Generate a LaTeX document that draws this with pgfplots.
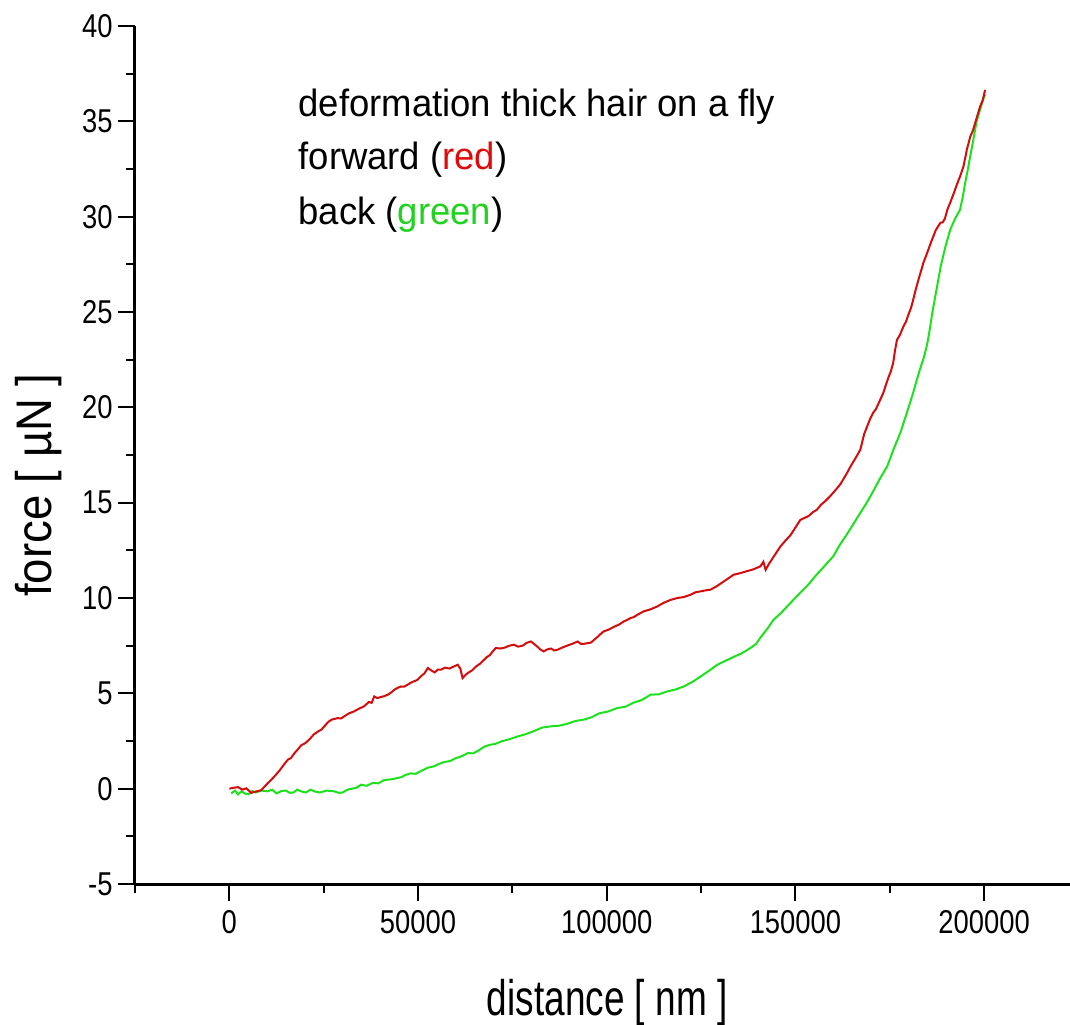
\documentclass[border=0pt]{standalone}
\usepackage{fontspec}
\setmainfont{Liberation Sans}
\usepackage{graphicx}
\usepackage{pgfplots}
\pgfplotsset{compat=1.18}
\definecolor{fwd}{RGB}{212,12,12}
\definecolor{bck}{RGB}{30,225,30}
\definecolor{txtred}{RGB}{225,10,10}
\definecolor{txtgreen}{RGB}{30,210,30}
\newcommand{\tl}[1]{\scalebox{0.83}[1]{#1}}
\begin{document}
\begin{tikzpicture}
\begin{axis}[
  at={(0pt,0pt)}, anchor=south west,
  scale only axis, width=467.5pt, height=429pt,
  xmin=-25000, xmax=222750, ymin=-5, ymax=40,
  axis x line*=bottom, axis y line*=left,
  axis line style={line width=1.5pt},
  xtick={0,50000,100000,150000,200000},
  xticklabels={\tl{0},\tl{50000},\tl{100000},\tl{150000},\tl{200000}},
  minor xtick={-25000,25000,75000,125000,175000},
  ytick={-5,0,5,10,15,20,25,30,35,40},
  yticklabels={\tl{-5},\tl{0},\tl{5},\tl{10},\tl{15},\tl{20},\tl{25},\tl{30},\tl{35},\tl{40}},
  minor ytick={-2.5,2.5,7.5,12.5,17.5,22.5,27.5,32.5,37.5},
  tick align=outside,
  major tick length=8.5pt, minor tick length=4.5pt,
  every tick/.style={black, line width=1pt},
  scaled ticks=false,
  tick label style={font=\fontsize{16.5}{18}\selectfont},
  xticklabel style={inner sep=4.5pt},
  yticklabel style={inner sep=2.5pt},
  clip=false,
]
\addplot[bck, line width=1pt] coordinates {
(500,-0.25) (1500,-0.1) (2300,-0.3) (3200,-0.14) (4100,-0.25) (5000,-0.3) (6000,-0.12) (7000,-0.2) (8500,-0.1) (10200,-0.14)
(11300,-0.05) (12500,-0.25) (13800,-0.12) (15000,-0.1) (16000,-0.22) (17000,-0.2) (18000,-0.05) (19000,-0.14) (20300,-0.2) (21500,-0.05) (22700,-0.15) (24000,-0.2)
(25800,-0.1) (27800,-0.14) (29000,-0.22) (30000,-0.2) (31300,-0.05) (32500,0.0) (33700,0.05) (34900,0.21) (36300,0.15) (38000,0.3) (39500,0.28) (41000,0.45)
(43200,0.5) (45500,0.6) (46700,0.72) (48000,0.8) (49400,0.78) (51000,0.95) (52600,1.1) (54200,1.17) (55500,1.3) (57000,1.4) (58500,1.45) (60000,1.6)
(61600,1.7) (63200,1.87) (64600,1.85) (66000,2.0) (67500,2.2) (69000,2.3) (70500,2.35) (72100,2.48) (74300,2.6) (76400,2.74) (78400,2.85) (80500,3.0)
(82800,3.2) (85200,3.27) (87300,3.3) (89500,3.4) (91700,3.55) (93900,3.62) (96000,3.75) (98000,3.95) (100400,4.05) (102800,4.23) (105000,4.3) (107000,4.5)
(109300,4.65) (111600,4.93) (113800,4.95) (116000,5.1) (118200,5.2) (120400,5.36) (122700,5.6) (125000,5.9) (127200,6.2) (129300,6.5) (131400,6.7) (133500,6.9)
(135800,7.1) (138100,7.38) (139600,7.6) (141000,8.0) (142600,8.4) (144200,8.86) (146100,9.2) (148000,9.6) (149700,9.95) (151300,10.28) (153400,10.7) (155500,11.2)
(157800,11.7) (160000,12.18) (161800,12.8) (163500,13.3) (165400,13.9) (167200,14.47) (168900,15.0) (170600,15.6) (172500,16.3) (174300,16.9) (176000,17.8)
(177800,18.67) (179500,19.7) (181200,20.77) (182100,21.4) (183000,22.0) (184000,22.6) (184900,23.3) (185600,24.1) (186300,25.0) (187400,26.2)
(188500,27.4) (189700,28.4) (191000,29.31) (192300,29.9) (193600,30.36) (194300,31.0) (195000,31.8) (195700,32.5) (196300,33.16) (197200,34.1) (198000,35.0) (198900,35.6)
(199700,36.13) (200260,36.4)
};
\addplot[fwd, line width=1pt] coordinates {
(0,0) (1200,0.05) (2300,0.08) (3500,-0.05) (4500,0.02) (5800,-0.22) (7000,-0.15)
(8460,-0.08) (10000,0.25) (11100,0.47) (12200,0.7) (13300,0.95) (14400,1.25) (15500,1.52) (16300,1.6) (17200,1.85)
(18100,2.05) (19000,2.27) (20200,2.4) (21300,2.6) (22400,2.85) (23500,3.0) (24400,3.1) (25300,3.3) (26200,3.5) (27100,3.62) (28700,3.7)
(29600,3.68) (30400,3.79) (31700,3.95) (33000,4.05) (34400,4.2) (35700,4.32) (37000,4.55) (37700,4.5) (38400,4.84) (39200,4.75) (40000,4.8)
(41000,4.85) (42000,4.93) (42900,5.05) (43800,5.2) (44700,5.3) (45500,5.36) (46300,5.35) (47200,5.45) (48000,5.55) (48900,5.63) (49800,5.7) (50800,5.9)
(51700,6.05) (52600,6.33) (53500,6.2) (54400,6.1) (55300,6.25) (56100,6.24) (57200,6.35) (58300,6.3) (59400,6.4) (60500,6.5) (61200,6.3)
(61800,5.8) (62500,5.95) (63200,6.07) (64300,6.2) (65300,6.4) (66400,6.55) (67500,6.76) (68200,6.9) (69000,7.0) (69800,7.2) (70600,7.38)
(71800,7.35) (73000,7.4) (74200,7.5) (75400,7.55) (76500,7.45) (77700,7.5) (78800,7.65) (79900,7.72) (80700,7.6) (81600,7.45) (82400,7.3) (83300,7.2)
(84200,7.3) (85200,7.35) (86100,7.25) (87000,7.29) (88200,7.4) (89500,7.5) (90900,7.6) (92300,7.72) (93100,7.6) (94000,7.6) (95800,7.66)
(96600,7.8) (97500,7.95) (98300,8.1) (99200,8.25) (100600,8.35) (102000,8.5) (103200,8.6) (104500,8.77) (105400,8.85) (106300,8.95) (107200,9.0) (108100,9.12)
(109800,9.3) (111500,9.4) (113300,9.55) (115100,9.75) (116900,9.9) (118700,10.0) (120400,10.05) (122200,10.17) (123500,10.3) (124900,10.35) (126200,10.4) (127500,10.44)
(129000,10.6) (130500,10.8) (132000,11.0) (133600,11.22) (135300,11.3) (137000,11.4) (138800,11.5) (140700,11.66) (141500,11.9) (142100,11.48)
(143000,11.8) (144000,12.1) (145000,12.4) (146000,12.7) (147300,13.0) (148700,13.3) (150000,13.7) (151300,14.1) (152400,14.2) (153500,14.3) (154600,14.5) (155700,14.63)
(156800,14.9) (158000,15.1) (159000,15.3) (160000,15.52) (161000,15.75) (162000,16.0) (162900,16.3) (163700,16.57) (164600,16.9) (165500,17.2) (166400,17.5) (167200,17.78)
(168200,18.6) (169000,19.0) (169800,19.4) (170600,19.72) (171300,19.9) (172000,20.2) (172700,20.5) (173300,20.77) (174000,21.2) (174700,21.6)
(175300,21.9) (175900,22.34) (176400,23.0) (176900,23.54) (177700,23.8) (178600,24.24) (179300,24.5) (180000,24.9) (180600,25.2) (181200,25.64) (181900,26.2) (182600,26.7)
(183200,27.1) (183900,27.58) (184900,28.1) (186000,28.7) (187200,29.3) (188400,29.68) (189000,29.7) (189600,29.9) (190300,30.4) (191000,30.73) (191900,31.2) (192800,31.7)
(193600,32.1) (194500,32.62) (195000,33.1) (195400,33.5) (195800,33.8) (196300,34.19) (197000,34.5) (197600,34.9) (198200,35.3) (198900,35.76) (199600,36.1) (200260,36.65)
};
\node[anchor=base west, inner sep=0, font=\fontsize{19}{22}\selectfont] at (axis cs:18250,35.24) {\scalebox{0.96}[1]{deformation thick hair on a fly}};
\node[anchor=base west, inner sep=0, font=\fontsize{19}{22}\selectfont] at (axis cs:18250,32.46) {\scalebox{0.96}[1]{forward (\textcolor{txtred}{red})}};
\node[anchor=base west, inner sep=0, font=\fontsize{19}{22}\selectfont] at (axis cs:18250,29.58) {\scalebox{0.96}[1]{back (\textcolor{txtgreen}{green})}};
\node[anchor=base, inner sep=0, yshift=-65.5pt, font=\fontsize{25}{30}\selectfont] at (rel axis cs:0.505,0) {\scalebox{0.74}[1]{distance [ nm ]}};
\node[anchor=base, xshift=-41.5pt, rotate=90, inner sep=0, font=\fontsize{25}{30}\selectfont] at (rel axis cs:0,0.465) {\scalebox{0.91}[1]{force [ µN ]}};
\end{axis}
\pgfresetboundingbox
\path[use as bounding box] (-67.5pt,-70pt) rectangle (467.5pt,442pt);
\end{tikzpicture}
\end{document}
